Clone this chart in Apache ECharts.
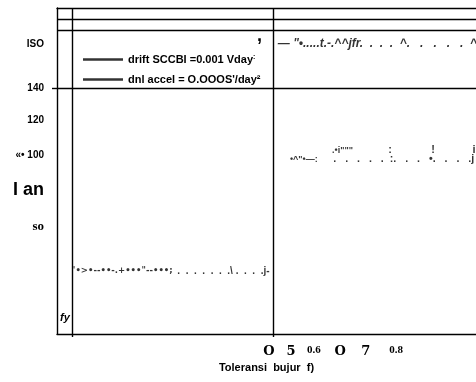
<!DOCTYPE html>
<html>
<head>
<meta charset="utf-8">
<style>html,body{margin:0;padding:0;background:#fff}#c{width:476px;height:382px}</style>
<script src="https://cdn.jsdelivr.net/npm/echarts@6/dist/echarts.min.js"></script>
</head>
<body>
<div id="c"></div>
<script>
// ---- data ----
const yTickValues = [165, 140, 121, 101, 81, 60];
const yTickLabels = ['ISO', '140', '120', '«• 100', 'I an', 'so'];
const yInnerValues = [7];
const yInnerLabels = ['fy'];
const xTickValues = [0.49, 0.545, 0.602, 0.667, 0.731, 0.806];
const xTickLabels = ['O', '5', '0.6', 'O', '7', '0.8'];
const xAxisTitle = 'Toleransi  bujur  f)';
const panelDividers = [0, 0.5];          // vertical rules (x values)
const bandRules = [140, 173.3, 179.7];   // horizontal rules (y values)
const seriesNames = ['drift SCCBI =0.001 Vday', "dnl accel = O.OOOS'/day²"];
// annotation marks: x, y, text
const driftX = [0.002, 0.262, 0.512];
const driftY = [34.3, 34.3, 165.2];
const driftText = ["'•>•--••-.+•••\"--•••;", '.  .  .  .  .  .  .\\ .  .  .  .j-', '— "•.....t.-.^^jfr.  .  .  .  ^.   .   .   .   .  ^'];
const accelX = [0.542, 0.65, 0.647, 0.791, 0.898, 1.0];
const accelY = [98.9, 98.9, 104.1, 104.1, 104.1, 104.1];
const accelText = ['•^"•—:', '.   .   .   .   .  :.   .   .   •.   .   .   .j', '.•i"""', ':', '!', 'i'];
const strayMark = ',';

// ---- chart ----
const BLACK = '#000';
const LW = 1.4;
const sans = 'Liberation Sans';
const serif = 'Liberation Serif';

function pick(values, labels, v) {
  const i = values.findIndex(t => Math.abs(t - v) < 1e-6);
  return i < 0 ? '' : labels[i];
}

const yRichKeys = ['a', 'a', 'a', 'a', 'big', 'ser'];
const xRichKeys = ['big', 'big', 'small', 'big', 'big', 'small'];

function markData(xs, ys, ts, styler) {
  return xs.map((x, i) => ({ value: [x, ys[i], ts[i]], label: styler(i) }));
}

const chart = echarts.init(document.getElementById('c'), null, { renderer: 'canvas' });
chart.setOption({
  animation: false,
  backgroundColor: '#fff',
  title: {
    text: strayMark, left: 252, top: 22,
    textStyle: { fontSize: 18, fontWeight: 'bold', color: BLACK, fontFamily: sans }
  },
  legend: {
    orient: 'vertical', left: 78, top: 49, itemGap: 9,
    itemWidth: 40, itemHeight: 2.5, icon: 'rect', selectedMode: false,
    data: seriesNames,
    itemStyle: { color: BLACK },
    formatter: function (name) { return name === seriesNames[0] ? name + '{sup|:}' : name; },
    textStyle: {
      color: BLACK, fontSize: 11, fontWeight: 'bold', fontFamily: sans,
      rich: { sup: { fontSize: 7, fontWeight: 'bold', color: BLACK, verticalAlign: 'top', fontFamily: sans } }
    }
  },
  grid: { left: 57, right: 0, top: 8, bottom: 48, containLabel: false },
  xAxis: [{
    type: 'value', min: -0.0373, max: 1.005, position: 'bottom',
    axisLine: { show: true, onZero: false, lineStyle: { color: BLACK, width: LW } },
    axisTick: { show: true, customValues: panelDividers, length: 3, inside: false, lineStyle: { color: BLACK, width: LW } },
    axisLabel: {
      customValues: xTickValues, margin: 11,
      formatter: function (v) { const i = xTickValues.findIndex(t => Math.abs(t - v) < 1e-6); return i < 0 ? '' : '{' + xRichKeys[i] + '|' + xTickLabels[i] + '}'; },
      rich: {
        big: { fontFamily: 'DejaVu Serif', fontWeight: 'bold', fontSize: 13, color: BLACK },
        small: { fontFamily: serif, fontWeight: 'bold', fontSize: 11, color: BLACK }
      }
    },
    splitLine: { show: false },
    name: xAxisTitle, nameLocation: 'middle', nameGap: 22,
    nameTextStyle: { color: BLACK, fontSize: 11, fontWeight: 'bold', fontFamily: sans }
  }, {
    type: 'value', min: -0.0373, max: 1.005, position: 'top',
    axisLine: { show: true, onZero: false, lineStyle: { color: BLACK, width: LW } },
    axisTick: { show: false }, axisLabel: { show: false }, splitLine: { show: false }
  }],
  yAxis: [{
    type: 'value', min: -2, max: 186, position: 'left',
    axisLine: { show: true, onZero: false, lineStyle: { color: BLACK, width: LW } },
    axisTick: { show: true, customValues: [140], length: 5, lineStyle: { color: BLACK, width: LW } },
    axisLabel: {
      customValues: yTickValues, margin: 13,
      formatter: function (v) { const i = yTickValues.findIndex(t => Math.abs(t - v) < 1e-6); return i < 0 ? '' : '{' + yRichKeys[i] + '|' + yTickLabels[i] + '}'; },
      rich: {
        a: { fontFamily: sans, fontWeight: 'bold', fontSize: 10, color: BLACK },
        big: { fontFamily: sans, fontWeight: 'bold', fontSize: 18, color: BLACK },
        ser: { fontFamily: serif, fontWeight: 'bold', fontSize: 13, color: BLACK }
      }
    },
    splitLine: { show: false }
  }, {
    type: 'value', min: -2, max: 186, position: 'left',
    axisLine: { show: false, onZero: false }, axisTick: { show: false }, splitLine: { show: false },
    axisLabel: {
      inside: true, customValues: yInnerValues, margin: 3,
      formatter: function (v) { return pick(yInnerValues, yInnerLabels, v); },
      color: BLACK, fontFamily: sans, fontWeight: 'bold', fontStyle: 'italic', fontSize: 11
    }
  }],
  series: [{
    name: seriesNames[0], type: 'scatter', symbolSize: 0, clip: false,
    itemStyle: { color: BLACK },
    data: markData(driftX, driftY, driftText, function (i) {
      if (i === 0) return { fontSize: 8.5, fontWeight: 'bold', fontFamily: 'DejaVu Sans' };
      if (i === 1) return { fontSize: 10, fontWeight: 'bold' };
      return { fontSize: 12, fontStyle: 'italic', fontWeight: 'bold' };
    }),
    label: { show: true, position: 'right', distance: 0, color: BLACK, fontFamily: sans, formatter: p => p.value[2] },
    markLine: {
      silent: true, symbol: ['none', 'none'], label: { show: false },
      lineStyle: { color: BLACK, width: LW, type: 'solid' },
      data: bandRules.map(v => ({ yAxis: v })).concat(panelDividers.map(v => ({ xAxis: v })))
    }
  }, {
    name: seriesNames[1], type: 'scatter', symbolSize: 0, clip: false,
    itemStyle: { color: BLACK },
    data: markData(accelX, accelY, accelText, function (i) {
      if (i >= 3) return { position: 'inside', fontSize: 11, fontWeight: 'bold' };
      if (i === 1) return { fontSize: 10.7, fontWeight: 'bold' };
      return { fontSize: 9, fontWeight: 'bold' };
    }),
    label: { show: true, position: 'right', distance: 0, color: BLACK, fontFamily: sans, formatter: p => p.value[2] }
  }]
});
</script>
</body>
</html>
